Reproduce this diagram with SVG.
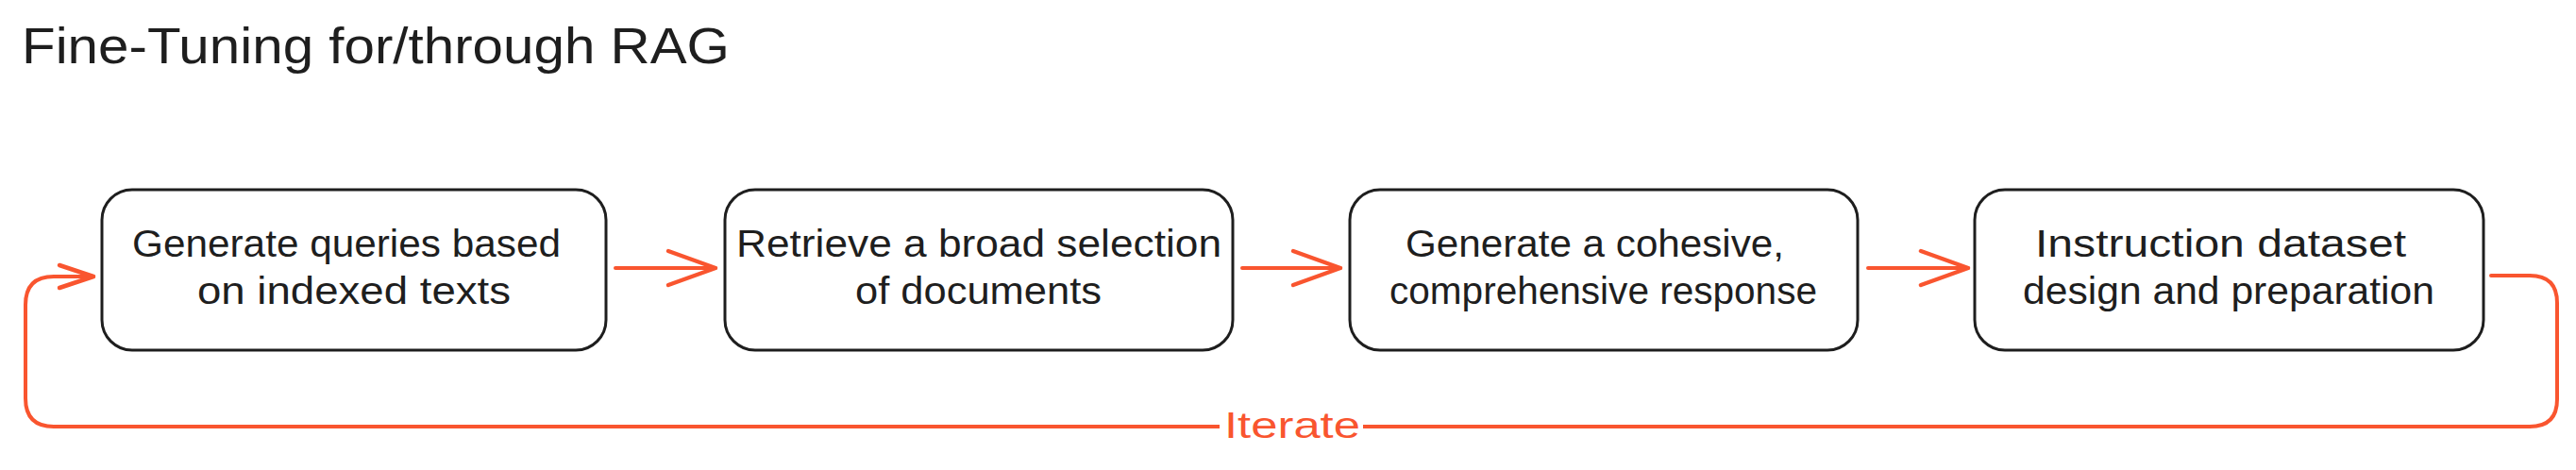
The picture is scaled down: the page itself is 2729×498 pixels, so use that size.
<svg xmlns="http://www.w3.org/2000/svg" width="2729" height="498" viewBox="0 0 2729 498">
<style>
.box{fill:#ffffff;stroke:#1e1e1e;stroke-width:3}
.lbl{font-family:"Liberation Sans","Open Sans",sans-serif;font-size:40px;fill:#1e1e1e}
.title{font-family:"Liberation Sans","Open Sans",sans-serif;font-size:53px;fill:#1e1e1e}
.conn{fill:none;stroke:#f9552f;stroke-width:4;stroke-linecap:round;stroke-linejoin:round}
.elbl{font-family:"Liberation Sans","Open Sans",sans-serif;font-size:39px;fill:#f9552f}
</style>
<defs>
<marker id="arr" viewBox="0 0 60 44" refX="55" refY="22" markerWidth="60" markerHeight="44" markerUnits="userSpaceOnUse" orient="auto">
<path d="M5 4 L55 22 L5 40" fill="none" stroke="#f9552f" stroke-width="4.5" stroke-linecap="round" stroke-linejoin="round"/>
</marker>
<marker id="arrs" viewBox="0 0 44 32" refX="40" refY="16" markerWidth="44" markerHeight="32" markerUnits="userSpaceOnUse" orient="auto">
<path d="M4 4 L40 16 L4 28" fill="none" stroke="#f9552f" stroke-width="4.5" stroke-linecap="round" stroke-linejoin="round"/>
</marker>
</defs>
<rect width="2729" height="498" fill="#ffffff"/>
<text class="title" x="23" y="67" textLength="750" lengthAdjust="spacingAndGlyphs">Fine-Tuning for/through RAG</text>
<g id="connectors">
<path class="conn" d="M652 284 H758" marker-end="url(#arr)"/>
<path class="conn" d="M1316 284 H1420" marker-end="url(#arr)"/>
<path class="conn" d="M1979 284 H2085" marker-end="url(#arr)"/>
<path class="conn" d="M2639 292 H2680 Q2709 292 2709 321 V423 Q2709 452 2680 452 H57 Q27 452 27 422 V323 Q27 293 57 293 H99" marker-end="url(#arrs)"/>
<rect x="1292" y="430" width="152" height="44" fill="#ffffff"/>
<text class="elbl" x="1297" y="464" textLength="144" lengthAdjust="spacingAndGlyphs">Iterate</text>
</g>
<g id="node1">
<rect class="box" x="108" y="201" width="534" height="170" rx="32"/>
<text class="lbl" x="140" y="272" textLength="454" lengthAdjust="spacingAndGlyphs">Generate queries based</text>
<text class="lbl" x="209" y="322" textLength="332" lengthAdjust="spacingAndGlyphs">on indexed texts</text>
</g>
<g id="node2">
<rect class="box" x="768" y="201" width="538" height="170" rx="32"/>
<text class="lbl" x="780" y="272" textLength="514" lengthAdjust="spacingAndGlyphs">Retrieve a broad selection</text>
<text class="lbl" x="906" y="322" textLength="261" lengthAdjust="spacingAndGlyphs">of documents</text>
</g>
<g id="node3">
<rect class="box" x="1430" y="201" width="538" height="170" rx="32"/>
<text class="lbl" x="1489" y="272" textLength="401" lengthAdjust="spacingAndGlyphs">Generate a cohesive,</text>
<text class="lbl" x="1472" y="322" textLength="453" lengthAdjust="spacingAndGlyphs">comprehensive response</text>
</g>
<g id="node4">
<rect class="box" x="2092" y="201" width="539" height="170" rx="32"/>
<text class="lbl" x="2156" y="272" textLength="393" lengthAdjust="spacingAndGlyphs">Instruction dataset</text>
<text class="lbl" x="2143" y="322" textLength="436" lengthAdjust="spacingAndGlyphs">design and preparation</text>
</g>
</svg>
